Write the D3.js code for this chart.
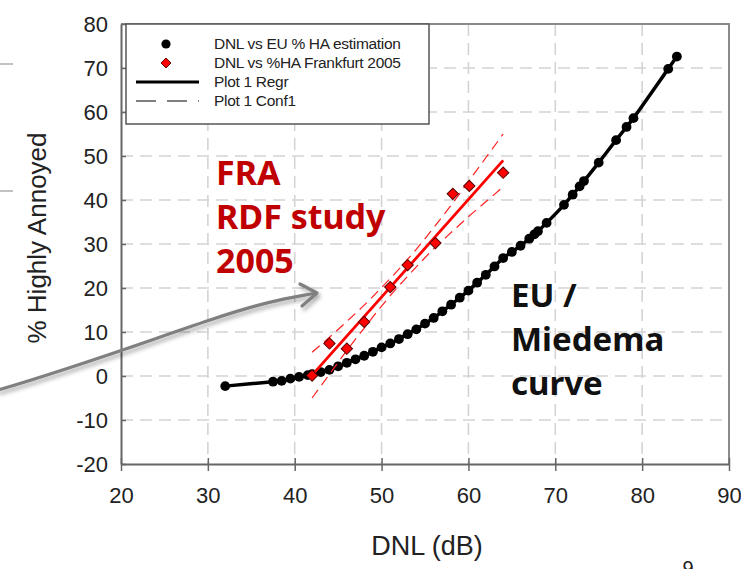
<!DOCTYPE html>
<html>
<head>
<meta charset="utf-8">
<script src="https://cdn.jsdelivr.net/npm/d3@7"></script>
<style>
  html, body { margin: 0; padding: 0; background: #fff; }
  svg { display: block; }
</style>
</head>
<body>
<div id="chart"></div>
<script>
// EU / Miedema estimation points (DNL dB, %HA)
const euDnl = [32, 37.5, 38.5, 39.5, 40.5, 41.5, 42, 43, 44, 45, 46, 47, 48, 49, 50, 51, 52, 53, 54, 55,
  56, 57, 58, 59, 60, 61, 62, 63, 64, 65, 66, 67, 67.6, 68, 69, 71, 72, 72.8, 73.3, 75, 77, 78.2, 79, 83, 84];
const euHa = [-2.3, -1.3, -1.1, -0.6, -0.2, 0.2, 0.4, 0.9, 1.4, 2.2, 3.0, 3.8, 4.6, 5.5, 6.5, 7.4, 8.4, 9.5, 10.6, 11.9,
  13.2, 14.7, 16.2, 17.8, 19.4, 21.2, 23.0, 24.9, 26.8, 28.2, 29.6, 31.2, 32.2, 32.9, 34.8, 38.9, 41.2, 43.1, 44.3, 48.5, 53.6, 56.6, 58.6, 69.8, 72.6];

// Frankfurt 2005 study points
const fraDnl = [42, 44, 46, 48, 51, 53, 56.2, 58.2, 60.1, 64];
const fraHa = [0.1, 7.4, 6.2, 12.3, 20.2, 25.2, 30.2, 41.4, 43.2, 46.2];

// regression line end points and confidence band
const regDnl = [42, 64];
const regHa = [0.2, 49.0];
const confDnl = [42, 44, 46, 48, 50, 52, 54, 56, 58, 60, 62, 64];
const confUpper = [5.4, 8.8, 12.4, 16.1, 20.1, 24.3, 28.8, 33.7, 38.8, 44.2, 49.6, 55.0];
const confLower = [-5.0, 0.4, 5.8, 10.9, 15.9, 20.5, 24.8, 28.9, 32.6, 36.2, 39.6, 43.0];

const xTicks = [20, 30, 40, 50, 60, 70, 80, 90];
const yTicks = [-20, -10, 0, 10, 20, 30, 40, 50, 60, 70, 80];
const legendLabels = ["DNL vs EU % HA estimation", "DNL vs %HA Frankfurt 2005", "Plot 1 Regr", "Plot 1 Conf1"];

const W = 741, H = 569;
const plot = {left: 121, right: 729, top: 24, bottom: 464};
const font = "Liberation Sans, Arial, sans-serif";

const svg = d3.select("#chart").append("svg")
  .attr("width", W)
  .attr("height", H);

const defs = svg.append("defs");
const shadow = defs.append("filter").attr("id", "shadow")
  .attr("x", "-10%").attr("y", "-30%").attr("width", "130%").attr("height", "180%");
shadow.append("feDropShadow")
  .attr("dx", 2).attr("dy", 3).attr("stdDeviation", 2)
  .attr("flood-color", "#000").attr("flood-opacity", 0.35);

const x = d3.scaleLinear().domain([20, 90]).range([plot.left, plot.right]);
const y = d3.scaleLinear().domain([-20, 80]).range([plot.bottom, plot.top]);

// slide decoration at the left edge
svg.selectAll(".deco")
  .data([64, 191])
  .join("line")
  .attr("x1", 0).attr("x2", 13)
  .attr("y1", d => d).attr("y2", d => d)
  .attr("stroke", "#999").attr("stroke-width", 1.2);

// grid
const grid = svg.append("g").attr("class", "grid")
  .attr("stroke", "#d4d4d4").attr("stroke-width", 1.6).attr("stroke-dasharray", "12,7");
grid.selectAll(".gx")
  .data(xTicks.filter(d => d > 20 && d < 90))
  .join("line")
  .attr("x1", d => x(d)).attr("x2", d => x(d))
  .attr("y1", plot.top).attr("y2", plot.bottom);
grid.selectAll(".gy")
  .data(yTicks.filter(d => d > -20 && d < 80))
  .join("line")
  .attr("x1", plot.left).attr("x2", plot.right)
  .attr("y1", d => y(d)).attr("y2", d => y(d));

// frame top / right
svg.append("path")
  .attr("d", `M${plot.left},${plot.top}H${plot.right}V${plot.bottom}`)
  .attr("fill", "none").attr("stroke", "#8a8a8a").attr("stroke-width", 2);

// axes
const fmt = d => String(d);
const xAxis = svg.append("g")
  .attr("transform", `translate(0,${plot.bottom})`)
  .call(d3.axisBottom(x).tickValues(xTicks).tickFormat(fmt).tickSize(7).tickSizeOuter(0));
const yAxis = svg.append("g")
  .attr("transform", `translate(${plot.left},0)`)
  .call(d3.axisLeft(y).tickValues(yTicks).tickFormat(fmt).tickSize(6).tickSizeOuter(0));

[xAxis, yAxis].forEach(a => {
  a.select(".domain").attr("stroke", "#666").attr("stroke-width", 2);
  a.selectAll(".tick line").attr("stroke", "#666").attr("stroke-width", 1.5);
  a.selectAll("text")
    .attr("fill", "#222")
    .attr("font-family", font)
    .attr("font-size", 22);
});
xAxis.selectAll(".tick line").attr("y1", -6);
yAxis.selectAll(".tick line").attr("x2", 5);
xAxis.selectAll("text").attr("y", 0).attr("dy", "1.75em");
yAxis.selectAll("text").attr("x", -13).attr("dy", "0.36em");

// axis titles
svg.append("text")
  .attr("x", 427).attr("y", 555)
  .attr("text-anchor", "middle")
  .attr("font-family", font)
  .attr("font-size", 27).attr("fill", "#222")
  .text("DNL (dB)");
svg.append("text")
  .attr("transform", "translate(46,238) rotate(-90)")
  .attr("text-anchor", "middle")
  .attr("font-family", font)
  .attr("font-size", 26).attr("fill", "#222")
  .text("% Highly Annoyed");

// EU curve
const euData = euDnl.map((d, i) => ({x: d, y: euHa[i]}));
svg.append("path")
  .datum(euData)
  .attr("fill", "none").attr("stroke", "#000").attr("stroke-width", 3.5)
  .attr("d", d3.line().x(d => x(d.x)).y(d => y(d.y)).curve(d3.curveCatmullRom));
svg.selectAll(".euDot")
  .data(euData)
  .join("circle")
  .attr("cx", d => x(d.x)).attr("cy", d => y(d.y))
  .attr("r", 4.9).attr("fill", "#000");

// confidence band lines
const confLine = d3.line().x(d => x(d.x)).y(d => y(d.y)).curve(d3.curveMonotoneX);
[confUpper, confLower].forEach(arr => {
  svg.append("path")
    .datum(confDnl.map((d, i) => ({x: d, y: arr[i]})))
    .attr("fill", "none").attr("stroke", "#ff2020").attr("stroke-width", 1.2)
    .attr("stroke-dasharray", "10,6")
    .attr("d", confLine);
});

// regression line
svg.append("path")
  .datum(regDnl.map((d, i) => ({x: d, y: regHa[i]})))
  .attr("fill", "none").attr("stroke", "#ff0000").attr("stroke-width", 2.8)
  .attr("d", d3.line().x(d => x(d.x)).y(d => y(d.y)));

// Frankfurt points
svg.selectAll(".fraDot")
  .data(fraDnl.map((d, i) => ({x: d, y: fraHa[i]})))
  .join("path")
  .attr("transform", d => `translate(${x(d.x)},${y(d.y)}) rotate(45)`)
  .attr("d", d3.symbol().type(d3.symbolSquare).size(64))
  .attr("fill", "#ff0000").attr("stroke", "#5a0000").attr("stroke-width", 1);

// legend
const lg = svg.append("g");
lg.append("rect")
  .attr("x", 126).attr("y", plot.top).attr("width", 303).attr("height", 100)
  .attr("fill", "#fff").attr("stroke", "#555").attr("stroke-width", 1.5);
const rows = lg.selectAll(".row")
  .data(legendLabels)
  .join("g")
  .attr("transform", (d, i) => `translate(0,${44 + i * 19})`);
rows.append("text")
  .attr("x", 214).attr("y", 5)
  .attr("font-family", font)
  .attr("font-size", 15.5).attr("letter-spacing", -0.3).attr("fill", "#222")
  .text(d => d);
rows.filter((d, i) => i === 0).append("circle")
  .attr("cx", 166).attr("r", 4.6).attr("fill", "#000");
rows.filter((d, i) => i === 1).append("path")
  .attr("transform", "translate(166,0) rotate(45)")
  .attr("d", d3.symbol().type(d3.symbolSquare).size(50))
  .attr("fill", "#ff0000").attr("stroke", "#5a0000").attr("stroke-width", 0.9);
rows.filter((d, i) => i === 2).append("line")
  .attr("x1", 136).attr("x2", 199)
  .attr("stroke", "#000").attr("stroke-width", 3);
rows.filter((d, i) => i === 3).append("line")
  .attr("x1", 136).attr("x2", 199)
  .attr("stroke", "#000").attr("stroke-width", 1.2).attr("stroke-dasharray", "20,11");

// annotations
const fraLines = ["FRA", "RDF study", "2005"];
svg.append("text")
  .attr("font-family", "Noto Sans, sans-serif").attr("font-weight", 700)
  .attr("font-size", 34).attr("fill", "#c00000")
  .selectAll("tspan")
  .data(fraLines)
  .join("tspan")
  .attr("x", 216).attr("y", (d, i) => 185 + i * 44)
  .text(d => d);

const euLines = ["EU /", "Miedema", "curve"];
svg.append("text")
  .attr("font-family", "Noto Sans, sans-serif").attr("font-weight", 700)
  .attr("font-size", 33).attr("fill", "#111")
  .selectAll("tspan")
  .data(euLines)
  .join("tspan")
  .attr("x", 511).attr("y", (d, i) => 307 + i * 44)
  .text(d => d);

// grey arrow pointing at the Frankfurt data
const arrow = svg.append("g").attr("filter", "url(#shadow)")
  .attr("fill", "none").attr("stroke", "#808080").attr("stroke-width", 3.2)
  .attr("stroke-linecap", "round").attr("stroke-linejoin", "round");
arrow.append("path").attr("d", "M-2,390 C80,366 150,340 210,320 S290,298 316,293");
arrow.append("path").attr("d", "M300,284 L317,293 L302,306");

// page number (cut by the bottom edge, as on the slide)
svg.append("text")
  .attr("x", 688).attr("y", 575)
  .attr("text-anchor", "middle")
  .attr("font-family", font)
  .attr("font-size", 20).attr("fill", "#222")
  .text("9");
</script>
</body>
</html>
